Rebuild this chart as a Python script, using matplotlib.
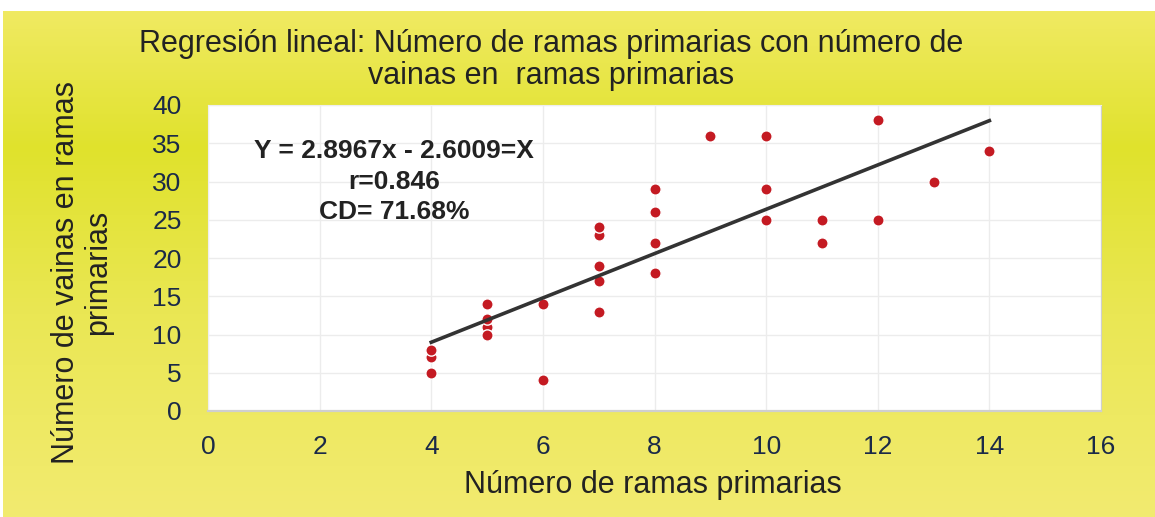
import matplotlib.pyplot as plt
import numpy as np
from matplotlib.colors import LinearSegmentedColormap

# ramas primarias (x) vs vainas en ramas primarias (y)
ramas = [4, 4, 4, 5, 5, 5, 5, 6, 6, 7, 7, 7, 7, 7, 8, 8, 8, 8,
         9, 10, 10, 10, 11, 11, 12, 12, 13, 14]
vainas = [7, 8, 5, 11, 14, 12, 10, 14, 4, 23, 24, 19, 17, 13, 29, 26, 22, 18,
          36, 36, 29, 25, 25, 22, 38, 25, 30, 34]

pendiente, intercepto = 2.8967, -2.6009

x_ticks = [0, 2, 4, 6, 8, 10, 12, 14, 16]
y_ticks = [0, 5, 10, 15, 20, 25, 30, 35, 40]

titulo = "Regresión lineal: Número de ramas primarias con número de\nvainas en  ramas primarias"
etiqueta_x = "Número de ramas primarias"
etiqueta_y = "Número de vainas en ramas\nprimarias"
anotacion = "Y = 2.8967x - 2.6009=X\nr=0.846\nCD= 71.68%"

plt.rcParams["font.family"] = ["Liberation Sans", "DejaVu Sans"]

W, H = 1155, 517
fig = plt.figure(figsize=(W / 100, H / 100), dpi=100)
fig.patch.set_facecolor("white")

# yellow vertical gradient behind everything
bg = fig.add_axes([3 / W, 0, 1 - 3 / W, 1 - 11 / H], zorder=-10)
cmap = LinearSegmentedColormap.from_list(
    "amarillo", [(0.0, "#f0ea62"), (0.27, "#e0e22c"), (0.6, "#eae754"), (1.0, "#f2eb70")])
grad = np.linspace(0, 1, 256).reshape(-1, 1)
bg.imshow(grad, aspect="auto", cmap=cmap, extent=[0, 1, 0, 1], origin="upper")
bg.axis("off")

ax = fig.add_axes([208 / W, 1 - 411 / H, (1101 - 208) / W, (411 - 105) / H])
ax.set_facecolor("white")

ax.scatter(ramas, vainas, s=66, color="#c41a22", edgecolors="white",
           linewidths=1.0, zorder=3)

xl = np.array([min(ramas), max(ramas)])
ax.plot(xl, pendiente * xl + intercepto, color="#333333", lw=2.6, zorder=4)

ax.set_xlim(0, 16)
ax.set_ylim(0, 40)
ax.set_xticks(x_ticks)
ax.set_yticks(y_ticks)
ax.tick_params(length=0, labelsize=19, labelcolor="#1b2a48")
ax.tick_params(axis="x", pad=17)
ax.tick_params(axis="y", pad=19)
ax.grid(True, color="#ececec", lw=1)
ax.set_axisbelow(True)
for side in ["top", "left"]:
    ax.spines[side].set_color("#eeeeee")
for side in ["right", "bottom"]:
    ax.spines[side].set_color("#cfcfcf")
ax.spines["bottom"].set_linewidth(1.6)

ax.text(3.33, 35.5, anotacion, ha="center", va="top", fontsize=19,
        fontweight="bold", color="#222222", linespacing=1.32)

fig.text(551 / W, 1 - 60 / H, titulo, ha="center", va="center",
         fontsize=22, color="#222222", linespacing=1.07)
fig.text(653 / W, 1 - 485 / H, etiqueta_x, ha="center", va="center",
         fontsize=22, color="#222222")
fig.text(82 / W, 1 - 272 / H, etiqueta_y, ha="center", va="center",
         rotation=90, fontsize=22, color="#222222", linespacing=1.1)

fig.savefig("out.png", dpi=100)
